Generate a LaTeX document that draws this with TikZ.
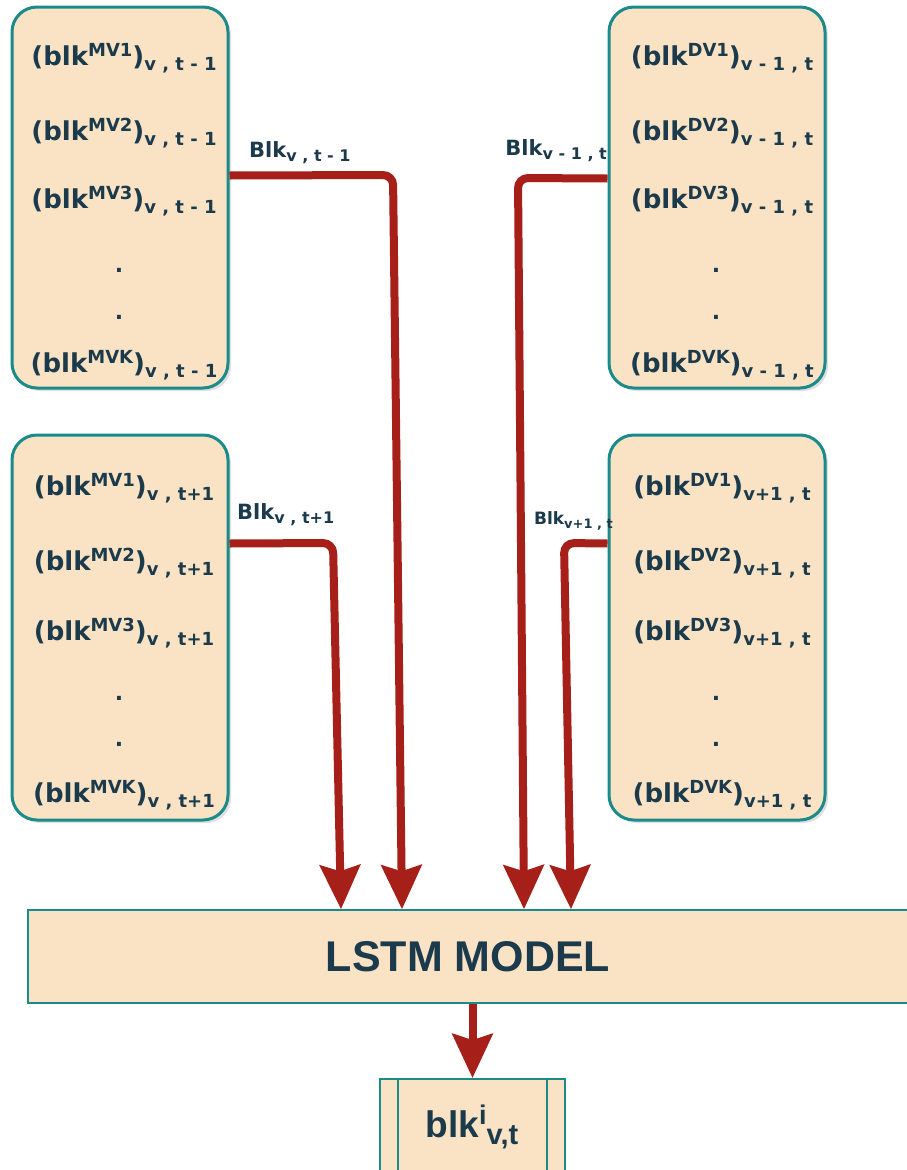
\documentclass[tikz,border=0pt]{standalone}
\usepackage{fontspec}
\setmainfont{DejaVu Sans}
\newfontfamily\hel{Liberation Sans}
\usetikzlibrary{arrows.meta,shadows}
\definecolor{boxfill}{HTML}{FAE3C5}
\definecolor{boxline}{HTML}{1B8A8A}
\definecolor{txt}{HTML}{1B3A4B}
\definecolor{arr}{HTML}{A62019}
% item text: (blk^{sup})_{sub}
\newcommand{\itmtext}[2]{(blk\raisebox{9pt}{\fontsize{18}{18}\selectfont #1})\raisebox{-5pt}{\fontsize{18}{18}\selectfont #2}}
\newcommand{\lbltext}[2]{Blk\raisebox{-4pt}{\fontsize{#1}{#1}\selectfont #2}}
\begin{document}
\begin{tikzpicture}[x=1pt,y=-1pt,
  vbox/.style={draw=boxline,line width=3pt,fill=boxfill,rounded corners=25pt,
    minimum width=216pt,inner sep=0pt,drop shadow={shadow xshift=3pt,shadow yshift=-3pt,fill=black!25}},
  itm/.style={text=txt,font=\fontsize{26}{28}\selectfont\bfseries,inner sep=0pt,anchor=base},
  dotn/.style={text=txt,font=\fontsize{22}{24}\selectfont\bfseries,inner sep=0pt,anchor=base},
  lbl/.style={text=txt,font=\fontsize{21}{24}\selectfont\bfseries,inner sep=0pt,anchor=base west},
  conn/.style={draw=arr,line width=8pt,rounded corners=10pt,-{Stealth[width=40pt,length=44pt,inset=6pt]}},
]
\useasboundingbox (0,0) rectangle (906,1170);
% boxes
\node[vbox,minimum height=381pt] (tl) at (120,197.5) {};
\node[vbox,minimum height=381pt] (tr) at (717,197.5) {};
\node[vbox,minimum height=385pt] (bl) at (120,627.5) {};
\node[vbox,minimum height=385pt] (br) at (717,627.5) {};
% top-left items
\node[itm] (tl1) at (124,65) {\itmtext{MV1}{v , t - 1}};
\node[itm] (tl2) at (124,140) {\itmtext{MV2}{v , t - 1}};
\node[itm] (tl3) at (124,208) {\itmtext{MV3}{v , t - 1}};
\node[dotn] (tl4) at (119,272) {.};
\node[dotn] (tl5) at (119,319) {.};
\node[itm] (tl6) at (124,372) {\itmtext{MVK}{v , t - 1}};
% top-right items
\node[itm] (tr1) at (722,65) {\itmtext{DV1}{v - 1 , t}};
\node[itm] (tr2) at (722,140) {\itmtext{DV2}{v - 1 , t}};
\node[itm] (tr3) at (722,208) {\itmtext{DV3}{v - 1 , t}};
\node[dotn] (tr4) at (716,272) {.};
\node[dotn] (tr5) at (716,319) {.};
\node[itm] (tr6) at (722,372) {\itmtext{DVK}{v - 1 , t}};
% bottom-left items
\node[itm] (bl1) at (124,495) {\itmtext{MV1}{v , t+1}};
\node[itm] (bl2) at (124,570) {\itmtext{MV2}{v , t+1}};
\node[itm] (bl3) at (124,640) {\itmtext{MV3}{v , t+1}};
\node[dotn] (bl4) at (119,700) {.};
\node[dotn] (bl5) at (119,746) {.};
\node[itm] (bl6) at (124,802) {\itmtext{MVK}{v , t+1}};
% bottom-right items
\node[itm] (br1) at (722,495) {\itmtext{DV1}{v+1 , t}};
\node[itm] (br2) at (722,570) {\itmtext{DV2}{v+1 , t}};
\node[itm] (br3) at (722,640) {\itmtext{DV3}{v+1 , t}};
\node[dotn] (br4) at (716,700) {.};
\node[dotn] (br5) at (716,746) {.};
\node[itm] (br6) at (722,802) {\itmtext{DVK}{v+1 , t}};
% LSTM
\node[draw=boxline,line width=1.5pt,fill=boxfill,minimum width=880pt,minimum height=93pt,inner sep=0pt,
  text=txt,font=\hel\fontsize{43}{46}\selectfont\bfseries] (lstm) at (468,956.5) {LSTM MODEL};
% output
\node[draw=boxline,line width=1.5pt,fill=boxfill,minimum width=185pt,minimum height=110pt,inner sep=0pt,
  anchor=north] (out) at (472.5,1078) {};
\draw[boxline,line width=1.5pt] (398,0 |- out.north) -- (398,0 |- out.south)
  (547,0 |- out.north) -- (547,0 |- out.south);
\node[text=txt,font=\hel\fontsize{37}{38}\selectfont\bfseries,inner sep=0pt,anchor=base] (outt) at (472,1137)
  {blk\raisebox{13pt}{\fontsize{27}{27}\selectfont i}\raisebox{-7pt}{\fontsize{29}{29}\selectfont v,t}};
% labels
\node[lbl] (l1) at (249,157) {\lbltext{16}{v , t - 1}};
\node[lbl,anchor=base east] (l2) at (607,155) {\lbltext{16}{v - 1 , t}};
\node[lbl] (l3) at (237,519) {\lbltext{16}{v , t+1}};
\node[lbl,anchor=base east,font=\fontsize{17}{18}\selectfont\bfseries] (l4) at (613,524) {\lbltext{13}{v+1 , t}};
% connectors
\draw[conn] ([yshift=22pt]tl.east) -- (393,175) -- (402,0 |- lstm.north);
\draw[conn] ([yshift=84pt]bl.east) -- (333,543) -- (341,0 |- lstm.north);
\draw[conn] ([yshift=19pt]tr.west) -- (518,178) -- (524,0 |- lstm.north);
\draw[conn] ([yshift=84pt]br.west) -- (564,543) -- (571,0 |- lstm.north);
\draw[conn] (lstm.south -| out.north) -- (out.north);
\end{tikzpicture}
\end{document}
